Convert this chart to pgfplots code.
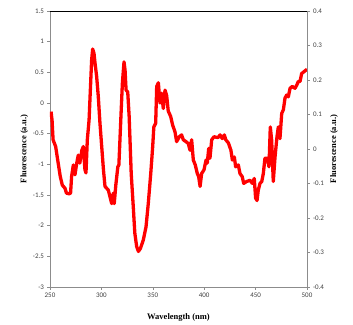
\documentclass[border=0pt]{standalone}
\usepackage{fontspec}
\setmainfont{Liberation Serif}
\newfontfamily\carlito{Carlito}
\usepackage{pgfplots}
\pgfplotsset{compat=1.18}
\pgfplotstableread{
x y
251 -0.14
252 -0.28
253 -0.60
255.5 -0.71
257.5 -0.93
260 -1.20
262 -1.34
264.6 -1.39
266 -1.47
268.5 -1.48
270 -1.47
271 -1.20
272.7 -1.01
274.3 -1.17
276 -0.98
277.5 -0.85
279 -0.98
281 -0.77
282.4 -0.71
284 -1.09
285 -1.14
286.3 -0.60
288 -0.28
290.5 0.70
291.5 0.88
292.8 0.81
293.8 0.65
295.4 0.43
297 0.10
298.6 -0.33
300.3 -0.71
302 -1.09
303.5 -1.36
306.7 -1.42
308.4 -1.53
310 -1.64
311.6 -1.47
312.5 -1.64
314 -1.34
316 -1.04
317 -1.01
319 -0.22
320.4 0.32
322 0.67
323 0.54
324 0.21
325.6 0.18
327 -0.22
329 -1.15
331 -1.69
332.5 -2.12
334.3 -2.34
336 -2.42
338 -2.37
340.8 -2.23
343.4 -2.02
345.6 -1.64
348 -1.15
349.9 -0.71
351 -0.39
352.8 -0.33
353.8 0.27
355.4 0.33
357 0.0
358.6 0.16
360.2 -0.09
361.9 0.21
363.5 0.12
365 -0.13
367.4 -0.22
369.3 -0.36
371.6 -0.47
373.2 -0.63
375.8 -0.55
378 -0.52
379.7 -0.60
382.3 -0.63
384.5 -0.66
386.2 -0.77
387.8 -0.60
389.4 -0.93
391.3 -1.01
393.3 -1.15
394.6 -1.20
396 -1.36
397.5 -1.15
399.8 -1.09
401.8 -0.93
403 -0.98
404.4 -0.74
405.6 -0.90
407.3 -0.60
409.5 -0.55
412 -0.56
413.7 -0.56
415.4 -0.52
417.6 -0.58
419.6 -0.52
421 -0.60
423.5 -0.65
426 -0.77
427.4 -0.93
429.3 -0.88
430.6 -1.04
433.2 -1.01
434.8 -1.15
437 -1.20
438.4 -1.31
441.3 -1.28
444.5 -1.26
446.8 -1.31
448.7 -1.23
450 -1.55
451.4 -1.59
452.6 -1.42
454.3 -1.31
456 -1.28
457.5 -1.15
459.1 -0.90
461.4 -0.90
463 -1.04
464.3 -0.39
465.6 -0.60
467.2 -1.28
468.9 -0.88
470.8 -0.55
472.1 -0.39
473.7 -0.58
475.4 -0.17
477 -0.11
478.6 0.08
480.2 0.13
481.8 0.10
483.5 0.24
485.7 0.27
488.3 0.24
490 0.29
491.5 0.35
493.2 0.35
494.8 0.48
497 0.51
500 0.55
}\spectrum
\begin{document}
\begin{tikzpicture}
\pgfplotsset{
  every axis/.style={
    scale only axis, width=257pt, height=276pt,
    /pgf/number format/assume math mode=true,
    tick label style={font=\carlito\fontsize{7}{8}\selectfont, text=black!75},
    tick align=outside, major tick length=2.5pt,
    axis line style={black!45, line width=0.8pt},
    every tick/.style={black!45, line width=0.6pt},
    label style={font=\bfseries\fontsize{8.5}{10}\selectfont},
  }
}
\begin{axis}[
  xmin=250, xmax=500, ymin=-3, ymax=1.5,
  xtick={250,300,...,500}, ytick={-3,-2.5,...,1.5},
  axis x line*=bottom, axis y line*=left,
  xlabel={Wavelength (nm)},
  ylabel={Fluorescence (a.u.)},
  xlabel style={at={(axis description cs:0.5,-0.11)}, anchor=center},
  ylabel style={at={(axis description cs:-0.1,0.5)}, anchor=center},
  /pgf/number format/fixed,
]
\addplot[red, line width=3.3pt, line join=round] table[x=x,y=y] {\spectrum};
\draw[black, line width=1pt] (rel axis cs:0,1) -- (rel axis cs:1,1);
\end{axis}
\begin{axis}[
  xmin=250, xmax=500, ymin=-0.4, ymax=0.4,
  axis x line=none, axis y line*=right,
  ytick={-0.4,-0.3,...,0.4},
  ylabel={Fluorescence (a.u.)},
  ylabel style={at={(axis description cs:1.105,0.5)}, anchor=center},
  yticklabel style={/pgf/number format/fixed, /pgf/number format/precision=1},
]
\end{axis}
\useasboundingbox (-50pt,-37pt) rectangle (303pt,287pt);
\end{tikzpicture}
\end{document}
